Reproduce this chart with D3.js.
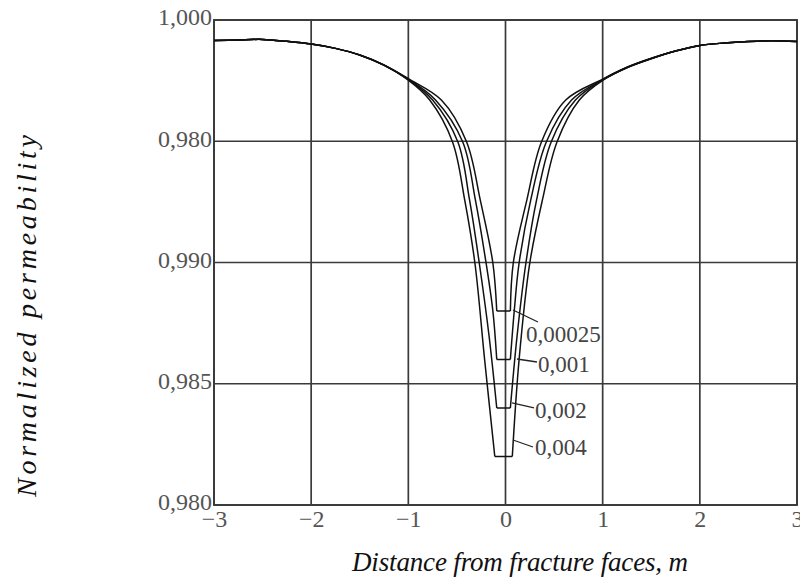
<!DOCTYPE html>
<html>
<head>
<meta charset="utf-8">
<script src="https://cdn.jsdelivr.net/npm/d3@7/dist/d3.min.js"></script>
<style>
  html, body { margin: 0; padding: 0; background: #fff; }
  svg { display: block; }
</style>
</head>
<body>
<svg id="chart" width="800" height="580"></svg>
<script>
// ---------------- data ----------------
const xTickValues = [-3, -2, -1, 0, 1, 2, 3];
const yTickValues = [1.000, 0.995, 0.990, 0.985, 0.980];
const yTickLabels = ["1,000", "0,980", "0,990", "0,985", "0,980"];

const seriesNames = ["0,00025", "0,001", "0,002", "0,004"];

const x00025 = [-3, -2.75, -2.5, -2.25, -2, -1.75, -1.5, -1.25, -1, -0.66, -0.40, -0.26, -0.13, -0.09,
                0.05, 0.08, 0.22, 0.37, 0.62, 1, 1.25, 1.5, 1.75, 2, 2.25, 2.5, 2.75, 3];
const y00025 = [0.99915, 0.99918, 0.99920, 0.99912, 0.99901, 0.99883, 0.99856, 0.99815, 0.99758, 0.99670, 0.99497, 0.99258, 0.98998, 0.98800,
                0.98800, 0.98998, 0.99258, 0.99497, 0.99670, 0.99756, 0.99805, 0.99842, 0.99872, 0.99895, 0.99905, 0.99911, 0.99914, 0.99911];

const x001 = [-3, -2.75, -2.5, -2.25, -2, -1.75, -1.5, -1.25, -1, -0.72, -0.44, -0.31, -0.20, -0.13, -0.09,
              0.05, 0.09, 0.14, 0.26, 0.42, 0.68, 1, 1.25, 1.5, 1.75, 2, 2.25, 2.5, 2.75, 3];
const y001 = [0.99915, 0.99918, 0.99920, 0.99912, 0.99901, 0.99883, 0.99856, 0.99814, 0.99756, 0.99670, 0.99497, 0.99258, 0.98998, 0.98800, 0.98600,
              0.98600, 0.98800, 0.98998, 0.99258, 0.99497, 0.99670, 0.99754, 0.99804, 0.99841, 0.99872, 0.99895, 0.99905, 0.99911, 0.99914, 0.99911];

const x002 = [-3, -2.75, -2.5, -2.25, -2, -1.75, -1.5, -1.25, -1, -0.75, -0.49, -0.37, -0.27, -0.17, -0.09,
              0.05, 0.12, 0.21, 0.32, 0.47, 0.72, 1, 1.25, 1.5, 1.75, 2, 2.25, 2.5, 2.75, 3];
const y002 = [0.99915, 0.99918, 0.99920, 0.99912, 0.99901, 0.99883, 0.99856, 0.99814, 0.99754, 0.99670, 0.99497, 0.99258, 0.98998, 0.98700, 0.98400,
              0.98400, 0.98700, 0.98998, 0.99258, 0.99497, 0.99670, 0.99753, 0.99804, 0.99841, 0.99872, 0.99895, 0.99905, 0.99911, 0.99914, 0.99911];

const x004 = [-3, -2.75, -2.5, -2.25, -2, -1.75, -1.5, -1.25, -1, -0.78, -0.545, -0.42, -0.315, -0.215, -0.11,
              0.07, 0.14, 0.25, 0.38, 0.53, 0.76, 1, 1.25, 1.5, 1.75, 2, 2.25, 2.5, 2.75, 3];
const y004 = [0.99915, 0.99918, 0.99920, 0.99912, 0.99901, 0.99883, 0.99855, 0.99813, 0.99752, 0.99670, 0.99497, 0.99258, 0.98998, 0.98600, 0.98200,
              0.98200, 0.98600, 0.98998, 0.99258, 0.99497, 0.99670, 0.99751, 0.99803, 0.99840, 0.99872, 0.99895, 0.99905, 0.99911, 0.99914, 0.99911];

// label anchors (data units)
const labelAnchorX = [0.077, 0.118, 0.067, 0.077];
const labelAnchorY = [0.98804, 0.98602, 0.98421, 0.98268];

// ---------------- layout ----------------
const plot = { left: 214, right: 797, top: 20, bottom: 505 };

const svg = d3.select("#chart");

const x = d3.scaleLinear().domain([-3, 3]).range([plot.left, plot.right]);
const y = d3.scaleLinear().domain([0.980, 1.000]).range([plot.bottom, plot.top]);

const gridColor = "#3a3a3a";
const serif = "'Liberation Serif', 'Times New Roman', serif";

// grid
const grid = svg.append("g");
grid.selectAll("line.h").data(yTickValues).join("line")
  .attr("x1", plot.left).attr("x2", plot.right)
  .attr("y1", d => y(d)).attr("y2", d => y(d))
  .attr("stroke", gridColor).attr("stroke-width", 1.7);
grid.selectAll("line.v").data(xTickValues).join("line")
  .attr("y1", plot.top).attr("y2", plot.bottom)
  .attr("x1", d => x(d)).attr("x2", d => x(d))
  .attr("stroke", gridColor).attr("stroke-width", 1.7);
grid.append("rect")
  .attr("x", plot.left).attr("y", plot.top)
  .attr("width", plot.right - plot.left).attr("height", plot.bottom - plot.top)
  .attr("fill", "none").attr("stroke", gridColor).attr("stroke-width", 1.9);

// axes
const yAxis = d3.axisLeft(y).tickValues(yTickValues).tickSize(0).tickPadding(2)
  .tickFormat((d, i) => yTickLabels[i]);
const gy = svg.append("g").attr("transform", `translate(${plot.left},0)`).call(yAxis);
gy.select(".domain").remove();
gy.selectAll("text").attr("font-family", serif).attr("font-size", 24).attr("fill", "#555")
  .attr("dy", "0.2em");

const xAxis = d3.axisBottom(x).tickValues(xTickValues).tickSize(0).tickPadding(5)
  .tickFormat(d => d3.format("d")(d).replace("-", "\u2212"));
const gx = svg.append("g").attr("transform", `translate(0,${plot.bottom})`).call(xAxis);
gx.select(".domain").remove();
gx.selectAll("text").attr("font-family", serif).attr("font-size", 24).attr("fill", "#555");

// curves
const seriesX = [x00025, x001, x002, x004];
const seriesY = [y00025, y001, y002, y004];

const smooth = d3.line().x(d => x(d[0])).y(d => y(d[1])).curve(d3.curveCatmullRom.alpha(0.5));
const straight = d3.line().x(d => x(d[0])).y(d => y(d[1]));

const curves = svg.append("g");
seriesX.forEach((xs, si) => {
  const pts = xs.map((v, i) => [v, seriesY[si][i]]);
  const minV = d3.min(pts, d => d[1]);
  const first = pts.findIndex(d => d[1] === minV);
  let last = first;
  while (last + 1 < pts.length && pts[last + 1][1] === minV) last++;
  const left = pts.slice(0, first + 1);
  const bottom = pts.slice(first, last + 1);
  const right = pts.slice(last);
  [[left, smooth], [bottom, straight], [right, smooth]].forEach(([p, gen]) => {
    curves.append("path").attr("d", gen(p))
      .attr("fill", "none").attr("stroke", "#111").attr("stroke-width", 1.5)
      .attr("stroke-linejoin", "miter");
  });
});

// labels with leaders
const leaderEnd = [[25, 12], [20, 3], [22, 5], [20, 7]];
const textOff = [[13, 32], [21, 13], [23, 15], [22, 15]];
const ann = svg.append("g");
seriesNames.forEach((name, i) => {
  const ax = x(labelAnchorX[i]), ay = y(labelAnchorY[i]);
  ann.append("line")
    .attr("x1", ax).attr("y1", ay)
    .attr("x2", ax + leaderEnd[i][0]).attr("y2", ay + leaderEnd[i][1])
    .attr("stroke", "#222").attr("stroke-width", 1.3);
  ann.append("text")
    .attr("x", ax + textOff[i][0]).attr("y", ay + textOff[i][1])
    .attr("font-family", serif).attr("font-size", 23).attr("fill", "#444")
    .text(name);
});

// axis titles
svg.append("text")
  .attr("x", 352).attr("y", 571)
  .attr("font-family", serif).attr("font-style", "italic")
  .attr("font-size", 27).attr("fill", "#111")
  .attr("textLength", 336).attr("lengthAdjust", "spacing")
  .text("Distance from fracture faces, m");

svg.append("text")
  .attr("transform", "translate(36,497) rotate(-90)")
  .attr("font-family", serif).attr("font-style", "italic")
  .attr("font-size", 28).attr("fill", "#111")
  .attr("textLength", 362).attr("lengthAdjust", "spacing")
  .text("Normalized permeability");
</script>
</body>
</html>
